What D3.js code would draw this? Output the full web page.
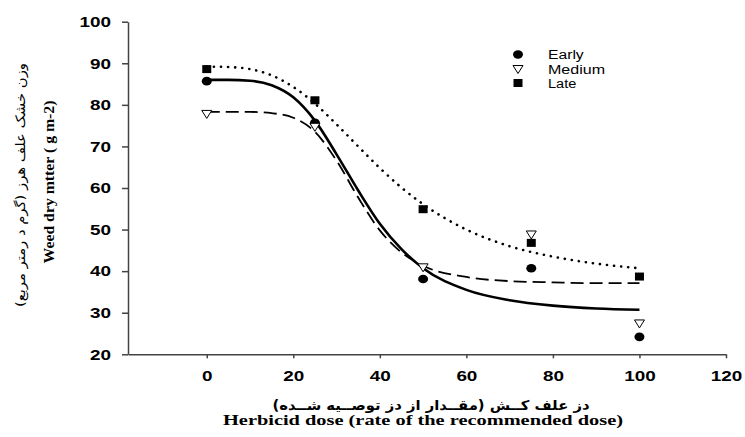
<!DOCTYPE html>
<html>
<head>
<meta charset="utf-8">
<script src="https://cdn.jsdelivr.net/npm/d3@7"></script>
<style>
  body { margin: 0; background: #fff; }
  svg { display: block; }
</style>
</head>
<body>
<svg id="chart"></svg>
<script>
// observed means at each dose
const doses = [0, 25, 50, 75, 100];
const early = [85.7, 75.7, 38.1, 40.7, 24.2];
const medium = [77.7, 74.6, 40.8, 48.7, 27.3];
const late = [88.6, 81.1, 54.9, 46.8, 38.7];

// fitted curves
const fitDose = [0, 5, 10, 15, 20, 25, 30, 35, 40, 45, 50, 60, 70, 80, 90, 100];
const earlyFit = [86.0, 86.0, 85.8, 84.7, 81.8, 76.2, 68.1, 59.4, 51.4, 45.3, 40.7, 35.5, 33.0, 31.7, 31.0, 30.7];
const mediumFit = [78.3, 78.3, 78.3, 78.0, 76.9, 73.5, 66.6, 57.7, 49.8, 44.5, 41.3, 38.6, 37.6, 37.3, 37.1, 37.1];
const lateFit = [89.2, 89.1, 88.6, 87.1, 84.3, 80.3, 75.3, 70.0, 64.8, 60.1, 56.1, 50.0, 46.0, 43.5, 41.8, 40.7];

const xTicks = [0, 20, 40, 60, 80, 100, 120];
const yTicks = [20, 30, 40, 50, 60, 70, 80, 90, 100];
const seriesNames = ["Early", "Medium", "Late"];

const width = 745;
const height = 437;

const svg = d3.select("#chart").attr("width", width).attr("height", height);

const xScale = d3.scaleLinear().domain([-18.2, 120]).range([128, 726]);
const yScale = d3.scaleLinear().domain([20, 100]).range([354.3, 21.7]);

// axes
const xAxis = d3.axisBottom(xScale).tickValues(xTicks).tickSize(4).tickSizeOuter(0).tickPadding(12);
const yAxis = d3.axisLeft(yScale).tickValues(yTicks).tickSize(6).tickSizeOuter(0).tickPadding(11);

const gx = svg.append("g").attr("transform", `translate(0, ${yScale(20)})`).call(xAxis);
const gy = svg.append("g").attr("transform", `translate(${xScale(-18.2)}, 0)`).call(yAxis);

[gx, gy].forEach(function (g) {
  g.select(".domain").attr("stroke", "#444").attr("stroke-width", 1.5);
  g.selectAll(".tick line").attr("stroke", "#444").attr("stroke-width", 1.5);
  g.selectAll("text")
    .attr("font-family", "'Liberation Sans', Arial, sans-serif")
    .attr("font-weight", "bold")
    .style("font-size", "15px")
    .attr("fill", "#000")
    .attr("textLength", (d) => String(d).length * 10.5)
    .attr("lengthAdjust", "spacingAndGlyphs");
});

// fitted lines
const line = d3
  .line()
  .x((d) => xScale(d[0]))
  .y((d) => yScale(d[1]))
  .curve(d3.curveMonotoneX);

svg.append("path")
  .datum(fitDose.map((d, i) => [d, lateFit[i]]))
  .attr("d", line)
  .attr("fill", "none")
  .attr("stroke", "#000")
  .attr("stroke-width", 2.6)
  .attr("stroke-linecap", "round")
  .attr("stroke-dasharray", "0.1 7");

svg.append("path")
  .datum(fitDose.map((d, i) => [d, mediumFit[i]]))
  .attr("d", line)
  .attr("fill", "none")
  .attr("stroke", "#000")
  .attr("stroke-width", 1.8)
  .attr("stroke-dasharray", "13 6");

svg.append("path")
  .datum(fitDose.map((d, i) => [d, earlyFit[i]]))
  .attr("d", line)
  .attr("fill", "none")
  .attr("stroke", "#000")
  .attr("stroke-width", 2.6);

// markers
const tri = "M-5,-4L5,-4L0,4Z";

svg.selectAll(".dot-early")
  .data(doses.map((d, i) => [d, early[i]]))
  .enter()
  .append("ellipse")
  .attr("cx", (d) => xScale(d[0]))
  .attr("cy", (d) => yScale(d[1]))
  .attr("rx", 5)
  .attr("ry", 4.3)
  .attr("fill", "#000");

svg.selectAll(".dot-medium")
  .data(doses.map((d, i) => [d, medium[i]]))
  .enter()
  .append("path")
  .attr("d", tri)
  .attr("transform", (d) => `translate(${xScale(d[0])}, ${yScale(d[1])})`)
  .attr("fill", "#fff")
  .attr("stroke", "#000")
  .attr("stroke-width", 1);

svg.selectAll(".dot-late")
  .data(doses.map((d, i) => [d, late[i]]))
  .enter()
  .append("rect")
  .attr("x", (d) => xScale(d[0]) - 4.5)
  .attr("y", (d) => yScale(d[1]) - 4)
  .attr("width", 9)
  .attr("height", 8)
  .attr("fill", "#000");

// legend
const legendY = [54.5, 69.5, 83];
const legendW = [35.7, 57, 28.3];
const legend = svg.append("g");

legend.append("ellipse").attr("cx", 518).attr("cy", legendY[0]).attr("rx", 5).attr("ry", 4.2).attr("fill", "#000");
legend.append("path").attr("d", tri).attr("transform", `translate(518, ${legendY[1]})`)
  .attr("fill", "#fff").attr("stroke", "#000").attr("stroke-width", 1);
legend.append("rect").attr("x", 513.5).attr("y", legendY[2] - 4).attr("width", 9).attr("height", 8).attr("fill", "#000");

legend.selectAll("text")
  .data(seriesNames)
  .enter()
  .append("text")
  .attr("x", 548)
  .attr("y", (d, i) => legendY[i] + 4.5)
  .attr("font-family", "'Liberation Sans', Arial, sans-serif")
  .style("font-size", "12.5px")
  .attr("textLength", (d, i) => legendW[i])
  .attr("lengthAdjust", "spacingAndGlyphs")
  .text((d) => d);

// x-axis titles
svg.append("text")
  .attr("x", 431)
  .attr("y", 410)
  .attr("text-anchor", "middle")
  .attr("direction", "rtl")
  .attr("font-family", "'DejaVu Sans', sans-serif")
  .attr("font-weight", "bold")
  .style("font-size", "13.5px")
  .attr("textLength", 317)
  .attr("lengthAdjust", "spacingAndGlyphs")
  .text("دز علف کــش (مقــدار از دز توصــیه شــده)");

svg.append("text")
  .attr("x", 423)
  .attr("y", 424.5)
  .attr("text-anchor", "middle")
  .attr("font-family", "'Liberation Serif', 'Times New Roman', serif")
  .attr("font-weight", "bold")
  .style("font-size", "15px")
  .attr("textLength", 400)
  .attr("lengthAdjust", "spacingAndGlyphs")
  .text("Herbicid dose (rate of the recommended dose)");

// y-axis titles
svg.append("text")
  .attr("transform", "translate(25, 185) rotate(-90)")
  .attr("text-anchor", "middle")
  .attr("direction", "rtl")
  .attr("font-family", "'DejaVu Sans', sans-serif")
  .style("font-size", "13px")
  .attr("textLength", 244)
  .attr("lengthAdjust", "spacingAndGlyphs")
  .text("وزن خشک علف هرز (گرم د رمتر مربع)");

svg.append("text")
  .attr("transform", "translate(54, 182) rotate(-90)")
  .attr("text-anchor", "middle")
  .attr("font-family", "'Liberation Serif', 'Times New Roman', serif")
  .attr("font-weight", "bold")
  .style("font-size", "14px")
  .attr("textLength", 163)
  .attr("lengthAdjust", "spacingAndGlyphs")
  .text("Weed dry mtter ( g m-2)");
</script>
</body>
</html>
